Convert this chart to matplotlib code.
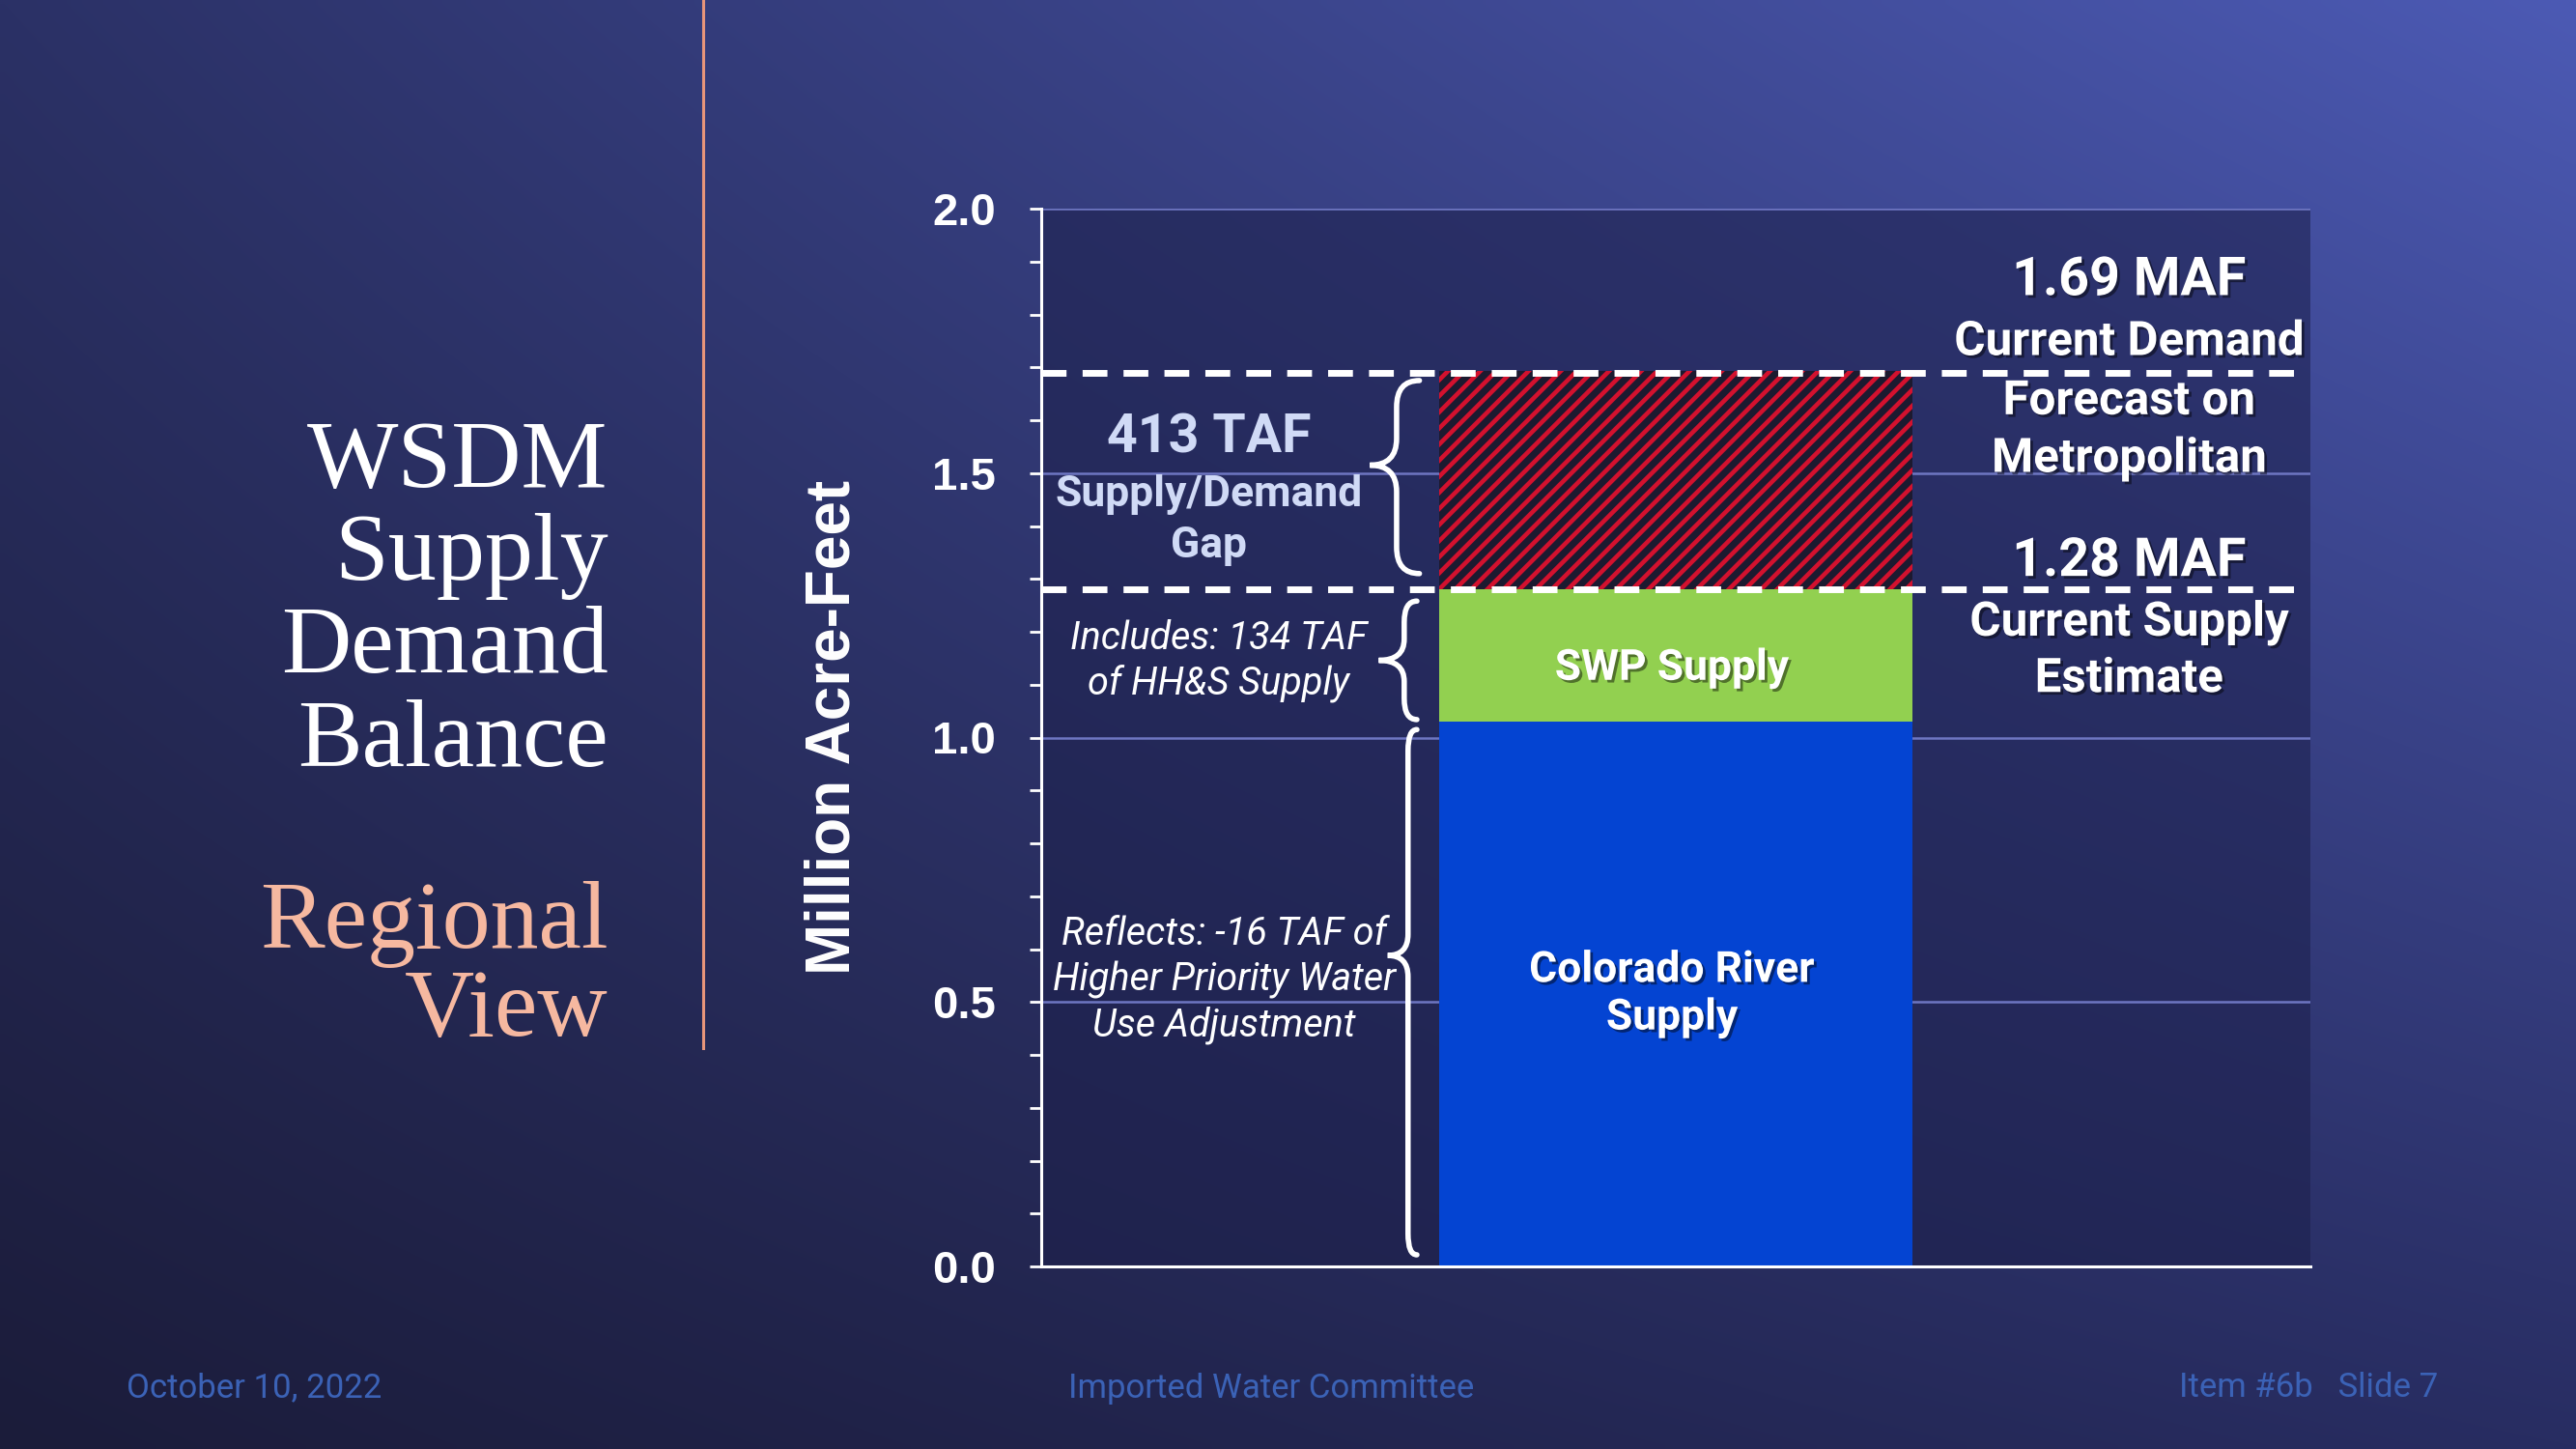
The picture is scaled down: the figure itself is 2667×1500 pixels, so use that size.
import matplotlib.pyplot as plt
import matplotlib.patheffects as pe
from matplotlib.lines import Line2D
from matplotlib.path import Path
from matplotlib.patches import PathPatch
from matplotlib.ticker import MultipleLocator, FormatStrFormatter
import numpy as np

# values in million acre-feet
colorado = 1.03
swp = 0.25
gap_taf = 413
supply = 1.28
demand = 1.69

seg_labels = ['Colorado River\nSupply', 'SWP Supply', '']
seg_values = [colorado, swp, gap_taf / 1000]
seg_colors = ['#0444d2', '#92d050', '#1c1a30']

y_ticks = [0.0, 0.5, 1.0, 1.5, 2.0]

title_lines = ['WSDM', 'Supply', 'Demand', 'Balance']
subtitle_lines = ['Regional', 'View']

plt.rcParams['hatch.linewidth'] = 3.3

fig = plt.figure(figsize=(26.67, 15), dpi=100)

# slide background gradient
bg = fig.add_axes([0, 0, 1, 1], zorder=-10)
yy, xx = np.mgrid[0:1:200j, 0:1:300j]
tl = np.array([43, 49, 102]) / 255
tr = np.array([76, 90, 180]) / 255
bl = np.array([27, 28, 58]) / 255
br = np.array([40, 45, 98]) / 255
img = ((1 - xx)[..., None] * ((1 - yy)[..., None] * tl + yy[..., None] * bl)
       + xx[..., None] * ((1 - yy)[..., None] * tr + yy[..., None] * br))
bg.imshow(img, extent=[0, 1, 0, 1], aspect='auto', origin='upper', interpolation='bilinear')
bg.axis('off')

ax = fig.add_axes([0.4042, 0.126, 0.4927, 0.730])
ax.set_facecolor((0.11, 0.12, 0.29, 0.55))
ax.set_xlim(0, 1)
ax.set_ylim(0, 2)

shadow = [pe.withSimplePatchShadow(offset=(2, -2), shadow_rgbFace='black', alpha=0.45)]

bottoms = np.cumsum([0] + seg_values[:-1])
for val, b, col, lab in zip(seg_values, bottoms, seg_colors, seg_labels):
    if lab:
        ax.bar(0.5, val, width=0.373, bottom=b, color=col, zorder=2)
        ax.text(0.497, b + val / 2 - (0.024 if val < 0.5 else 0), lab, ha='center', va='center',
                color='white', fontsize=32, fontweight='bold', family='Roboto',
                linespacing=1.22, zorder=5, path_effects=shadow)
    else:
        ax.bar(0.5, val, width=0.373, bottom=b, color=col, edgecolor='#d3112e',
               linewidth=0, hatch='//', zorder=2)

# supply and demand levels
for lvl in [demand, supply]:
    ax.axhline(lvl, xmin=0, xmax=0.989, color='white', lw=5, dashes=(3.7, 2.4), zorder=4)

# axes styling
ax.set_yticks(y_ticks)
ax.yaxis.set_minor_locator(MultipleLocator(0.1))
ax.yaxis.set_major_formatter(FormatStrFormatter('%.1f'))
ax.yaxis.grid(True, color='#6e76c2', lw=1.8)
ax.set_axisbelow(True)
ax.tick_params(axis='y', which='both', direction='out', length=9, width=2,
               color='white', pad=25, labelsize=34, labelcolor='white')
for t in ax.get_yticklabels():
    t.set_fontweight('bold')
    t.set_family('Liberation Sans')
ax.tick_params(axis='x', which='both', length=0, labelbottom=False)
for s in ['top', 'right']:
    ax.spines[s].set_visible(False)
for s in ['left', 'bottom']:
    ax.spines[s].set_color('white')
    ax.spines[s].set_linewidth(2.2)

ax.set_ylabel('Million Acre-Feet', fontsize=46, fontweight='bold', color='white',
              family='Liberation Sans', va='center')
ax.yaxis.set_label_coords(-0.164, 0.51)

# right-hand annotations
rx = 0.857
big = dict(ha='center', va='center', color='white', fontsize=40, fontweight='bold',
           family='Roboto', path_effects=shadow, zorder=6)
small = dict(big, fontsize=35.5)
ax.text(rx, 1.864, f'{demand:.2f} MAF', **big)
ax.text(rx, 1.747, 'Current Demand', **small)
ax.text(rx, 1.635, 'Forecast on', **small)
ax.text(rx, 1.526, 'Metropolitan', **small)
ax.text(rx, 1.333, f'{supply:.2f} MAF', **big)
ax.text(rx, 1.216, 'Current Supply', **small)
ax.text(rx, 1.110, 'Estimate', **small)

# left-hand annotations
gap_kw = dict(ha='center', va='center', color='#d0daf6', fontweight='bold', family='Roboto', zorder=6)
ax.text(0.132, 1.566, f'{gap_taf} TAF', fontsize=40, **gap_kw)
ax.text(0.132, 1.459, 'Supply/Demand', fontsize=32, **gap_kw)
ax.text(0.132, 1.362, 'Gap', fontsize=32, **gap_kw)

note_kw = dict(ha='center', va='center', color='white', fontstyle='italic', family='Roboto',
               fontsize=28.5, zorder=6)
ax.text(0.140, 1.187, 'Includes: 134 TAF', **note_kw)
ax.text(0.140, 1.103, 'of HH&S Supply', **note_kw)
ax.text(0.144, 0.628, 'Reflects: -16 TAF of', **note_kw)
ax.text(0.144, 0.541, 'Higher Priority Water', **note_kw)
ax.text(0.144, 0.457, 'Use Adjustment', **note_kw)


def brace(y_bot, y_top, x_tip, x_bar, x_end, r=0.04, y_mid=None):
    if y_mid is None:
        y_mid = (y_bot + y_top) / 2
    verts = [(x_end, y_top), (x_bar, y_top), (x_bar, y_top - r),
             (x_bar, y_mid + r),
             (x_bar, y_mid), (x_tip, y_mid),
             (x_bar, y_mid), (x_bar, y_mid - r),
             (x_bar, y_bot + r),
             (x_bar, y_bot), (x_end, y_bot)]
    codes = [Path.MOVETO, Path.CURVE3, Path.CURVE3, Path.LINETO, Path.CURVE3, Path.CURVE3,
             Path.CURVE3, Path.CURVE3, Path.LINETO, Path.CURVE3, Path.CURVE3]
    ax.add_patch(PathPatch(Path(verts, codes), fill=False, edgecolor='white', lw=4,
                           capstyle='round', zorder=6))


brace(supply + 0.03, demand - 0.015, 0.259, 0.280, 0.298, r=0.05, y_mid=1.515)
brace(colorado + 0.004, supply - 0.022, 0.266, 0.286, 0.296, r=0.04)
brace(0.022, colorado - 0.015, 0.273, 0.289, 0.296, r=0.04, y_mid=0.588)

# slide title
for i, line in enumerate(title_lines):
    fig.text(0.236, 0.6643 - i * 0.0643, line, ha='right', va='baseline', color='white',
             fontsize=72, family='Liberation Serif')
for i, line in enumerate(subtitle_lines):
    fig.text(0.236, 0.3457 - i * 0.0602, line, ha='right', va='baseline', color='#f6b8a0',
             fontsize=72, family='Liberation Serif')

fig.add_artist(Line2D([0.273, 0.273], [0.277, 1.0], transform=fig.transFigure,
                      color='#e8957a', lw=2.2))

# footer
foot = dict(va='center', color='#3b62b6', fontsize=25, family=['Liberation Sans Narrow', 'Roboto'])
fig.text(0.049, 0.042, 'October 10, 2022', **foot)
fig.text(0.4146, 0.042, 'Imported Water Committee', **foot)
fig.text(0.846, 0.042, 'Item #6b   Slide 7', **foot)

fig.savefig('out.png', dpi=100)
